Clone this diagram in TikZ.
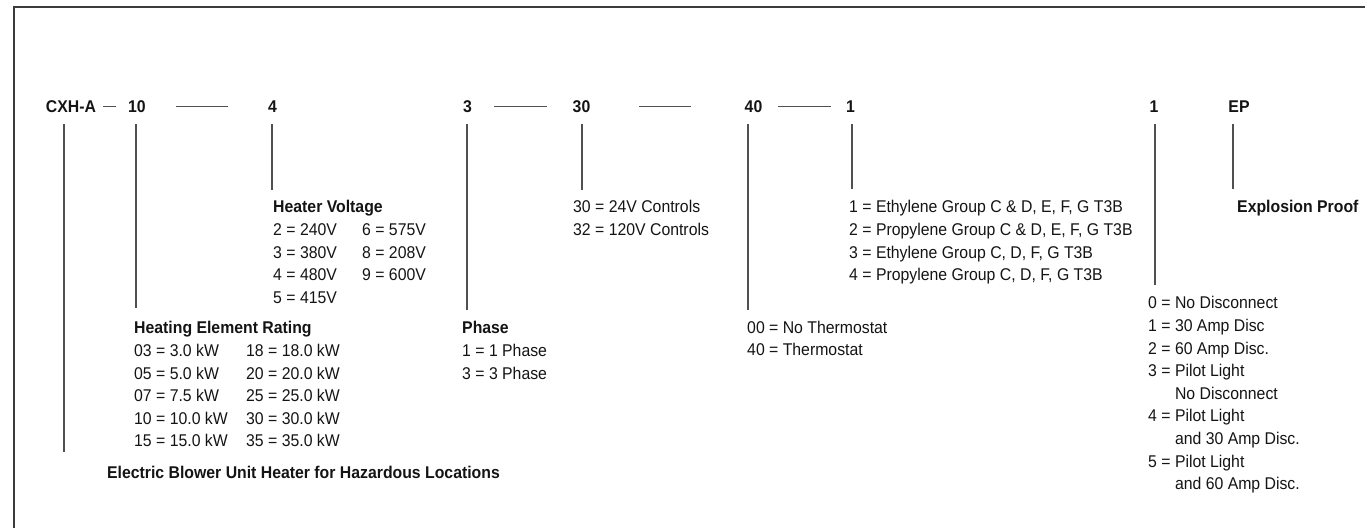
\documentclass[tikz,border=0pt]{standalone}
\usepackage{fontspec}
\setmainfont{Liberation Sans}[FakeStretch=0.93]
\usepackage{array}
\definecolor{leadgray}{RGB}{80,80,80}
\definecolor{framegray}{RGB}{60,60,60}
\definecolor{ink}{RGB}{20,20,20}
\setlength{\tabcolsep}{0pt}
\begin{document}
\begin{tikzpicture}[x=1pt,y=-1pt,
  lead/.style={draw=leadgray, line width=1.2pt},
  joiner/.style={draw=leadgray, line width=1pt},
  frameline/.style={draw=framegray, line width=2pt},
  code/.style={inner sep=0pt, anchor=base, text=ink, font=\fontsize{17}{22.6}\selectfont\bfseries},
  desc/.style={inner sep=0pt, anchor=base west, text=ink, font=\fontsize{17}{22.6}\selectfont}]
\useasboundingbox (0,0) rectangle (1365,528);
% frame
\draw[frameline] (14.3,528) -- (14.3,7) -- (1365,7);
% code row
\node[code] (cxh) at (71,112.8) {CXH-A};
\node[code] (c10) at (137,112.8) {10};
\node[code] (c4) at (272.5,112.8) {4};
\node[code] (c3) at (467.5,112.8) {3};
\node[code] (c30) at (581.5,112.8) {30};
\node[code] (c40) at (753.5,112.8) {40};
\node[code] (c1a) at (850.5,112.8) {1};
\node[code] (c1b) at (1154,112.8) {1};
\node[code] (cep) at (1239,112.8) {EP};
% joiners
\coordinate (j1a) at (103,106.7); \coordinate (j1b) at (116,106.7);
\coordinate (j2a) at (176,106.7); \coordinate (j2b) at (228,106.7);
\coordinate (j3a) at (494,106.7); \coordinate (j3b) at (547,106.7);
\coordinate (j4a) at (639,106.7); \coordinate (j4b) at (691,106.7);
\coordinate (j5a) at (778,106.7); \coordinate (j5b) at (831,106.7);
\foreach \p in {j1,j2,j3,j4,j5} \draw[joiner] (\p a) -- (\p b);
% descriptions
\node[desc] (hv) at (273,212.8) {\begin{tabular}[t]{@{}p{89pt}@{}l@{}}
\multicolumn{2}{@{}l@{}}{\bfseries Heater Voltage}\\
2 = 240V & 6 = 575V\\
3 = 380V & 8 = 208V\\
4 = 480V & 9 = 600V\\
5 = 415V & \end{tabular}};
\node[desc] (her) at (134,333.8) {\begin{tabular}[t]{@{}p{112pt}@{}l@{}}
\multicolumn{2}{@{}l@{}}{\bfseries Heating Element Rating}\\
03 = 3.0 kW & 18 = 18.0 kW\\
05 = 5.0 kW & 20 = 20.0 kW\\
07 = 7.5 kW & 25 = 25.0 kW\\
10 = 10.0 kW & 30 = 30.0 kW\\
15 = 15.0 kW & 35 = 35.0 kW\end{tabular}};
\node[code] (ebu) at (303.5,478.8) {Electric Blower Unit Heater for Hazardous Locations};
\node[desc] (ctl) at (573,212.8) {\begin{tabular}[t]{@{}l@{}}
30 = 24V Controls\\
32 = 120V Controls\end{tabular}};
\node[desc] (ph) at (462,333.8) {\begin{tabular}[t]{@{}l@{}}
\bfseries Phase\\
1 = 1 Phase\\
3 = 3 Phase\end{tabular}};
\node[desc] (th) at (747,333.3) {\begin{tabular}[t]{@{}l@{}}
00 = No Thermostat\\
40 = Thermostat\end{tabular}};
\node[desc] (grp) at (849,212.8) {\begin{tabular}[t]{@{}l@{}}
1 = Ethylene Group C \& D, E, F, G T3B\\
2 = Propylene Group C \& D, E, F, G T3B\\
3 = Ethylene Group C, D, F, G T3B\\
4 = Propylene Group C, D, F, G T3B\end{tabular}};
\node[desc, font=\fontsize{17}{22.6}\selectfont\bfseries] (exp) at (1237,212.8) {Explosion Proof};
\node[desc] (dis) at (1148,308.8) {\begin{tabular}[t]{@{}l@{\ }l@{\ }l@{}}
0 & = & No Disconnect\\
1 & = & 30 Amp Disc\\
2 & = & 60 Amp Disc.\\
3 & = & Pilot Light\\
 & & No Disconnect\\
4 & = & Pilot Light\\
 & & and 30 Amp Disc.\\
5 & = & Pilot Light\\
 & & and 60 Amp Disc.\end{tabular}};
% leaders
\coordinate (lcxhT) at (64,124);   \coordinate (lcxhB) at (64,452);
\coordinate (l10T) at (136,124);   \coordinate (l10B) at (136,308);
\coordinate (l4T) at (272,124);    \coordinate (l4B) at (272,190);
\coordinate (l3T) at (467,124);    \coordinate (l3B) at (467,310);
\coordinate (l30T) at (582,124);   \coordinate (l30B) at (582,190);
\coordinate (l40T) at (748,124);   \coordinate (l40B) at (748,310);
\coordinate (l1aT) at (852,124);   \coordinate (l1aB) at (852,189);
\coordinate (l1bT) at (1155,124);  \coordinate (l1bB) at (1155,285);
\coordinate (lepT) at (1233,124);  \coordinate (lepB) at (1233,189);
\foreach \p in {lcxh,l10,l4,l3,l30,l40,l1a,l1b,lep} \draw[lead] (\p T) -- (\p B);
\end{tikzpicture}
\end{document}
